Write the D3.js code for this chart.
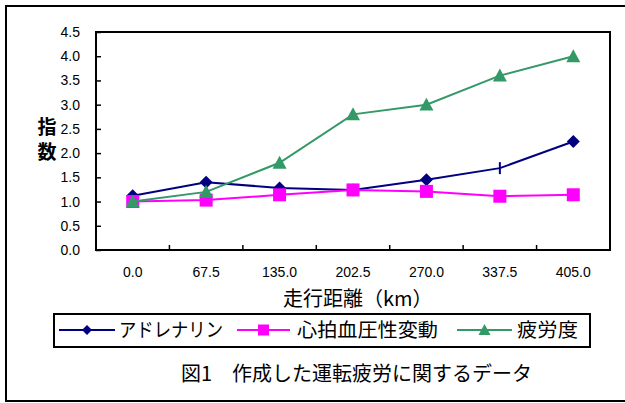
<!DOCTYPE html>
<html>
<head>
<meta charset="utf-8">
<script src="https://cdn.jsdelivr.net/npm/d3@7"></script>
<style>
  html, body { margin: 0; padding: 0; background: #fff; }
  svg { display: block; }
  text { font-family: "Liberation Sans", Arial, "Noto Sans CJK JP", sans-serif; fill: #000; }
  .jp { font-family: "Noto Sans CJK JP", "Liberation Sans", sans-serif; }
</style>
</head>
<body>
<svg id="chart" width="625" height="403"></svg>
<script>
// 走行距離 (km) categories
const distances = ["0.0", "67.5", "135.0", "202.5", "270.0", "337.5", "405.0"];
// index series
const adrenaline = [1.12, 1.40, 1.28, 1.24, 1.45, 1.69, 2.24];
const heartBP    = [1.00, 1.03, 1.14, 1.24, 1.21, 1.11, 1.14];
const fatigue    = [1.00, 1.20, 1.80, 2.80, 3.00, 3.60, 4.00];
// marker shape per point of the adrenaline series (one point drawn as a bar)
const adrenalineMarks = ["diamond", "diamond", "diamond", "diamond", "diamond", "bar", "diamond"];
const yTicks = [0, 0.5, 1, 1.5, 2, 2.5, 3, 3.5, 4, 4.5];

const seriesNames = ["アドレナリン", "心拍血圧性変動", "疲労度"];
const seriesColors = ["#000080", "#ff00ff", "#339966"];

const svg = d3.select("#chart");

// outer frame (open on the right)
svg.append("path")
  .attr("d", "M630,6 H6 V401 H630")
  .attr("fill", "none").attr("stroke", "#000").attr("stroke-width", 2);

const plot = { left: 96, top: 32, right: 610, bottom: 250 };

const x = d3.scaleBand().domain(distances).range([plot.left, plot.right]).padding(0);
const y = d3.scaleLinear().domain([0, 4.5]).range([plot.bottom, plot.top]);

// plot border
svg.append("rect")
  .attr("x", plot.left).attr("y", plot.top)
  .attr("width", plot.right - plot.left).attr("height", plot.bottom - plot.top)
  .attr("fill", "none").attr("stroke", "#000").attr("stroke-width", 2);

// y axis: ticks inside, labels left
const yAxis = d3.axisLeft(y).tickValues(yTicks).tickFormat(d3.format(".1f")).tickSizeInner(-5).tickSizeOuter(0).tickPadding(16);
const gy = svg.append("g").attr("transform", `translate(${plot.left},0)`).call(yAxis);
gy.select(".domain").remove();
gy.selectAll(".tick line").attr("stroke", "#000").attr("stroke-width", 1.5);
gy.selectAll(".tick text").attr("font-size", 14).attr("font-family", "Liberation Sans, Arial, sans-serif").attr("fill", "#000");

// x axis: ticks at category boundaries pointing up
const boundaries = distances.slice(1).map(d => x(d));
svg.append("g").selectAll("line").data(boundaries).join("line")
  .attr("x1", d => d).attr("x2", d => d)
  .attr("y1", plot.bottom).attr("y2", plot.bottom - 5)
  .attr("stroke", "#000").attr("stroke-width", 1.5);
svg.append("g").selectAll("text").data(distances).join("text")
  .attr("x", d => x(d) + x.bandwidth() / 2)
  .attr("y", 277)
  .attr("text-anchor", "middle")
  .attr("font-size", 14)
  .text(d => d);

// axis titles
svg.append("text").attr("class", "jp").attr("x", 283).attr("y", 306)
  .attr("font-size", 20).text("走行距離（km）");
svg.append("text").attr("class", "jp").attr("x", 47).attr("y", 134)
  .attr("font-size", 19).attr("font-weight", "bold").attr("text-anchor", "middle").text("指");
svg.append("text").attr("class", "jp").attr("x", 47).attr("y", 159)
  .attr("font-size", 19).attr("font-weight", "bold").attr("text-anchor", "middle").text("数");

// marker drawing helpers
function drawMarker(g, shape, cx, cy, s, color) {
  if (shape === "diamond") {
    g.append("path").attr("d", `M${cx},${cy - s} L${cx + s},${cy} L${cx},${cy + s} L${cx - s},${cy} Z`).attr("fill", color);
  } else if (shape === "square") {
    g.append("rect").attr("x", cx - s).attr("y", cy - s).attr("width", 2 * s).attr("height", 2 * s).attr("fill", color);
  } else if (shape === "triangle") {
    g.append("path").attr("d", `M${cx},${cy - s} L${cx + s},${cy + s * 0.85} L${cx - s},${cy + s * 0.85} Z`).attr("fill", color);
  } else if (shape === "bar") {
    g.append("line").attr("x1", cx).attr("x2", cx).attr("y1", cy - 6).attr("y2", cy + 6).attr("stroke", color).attr("stroke-width", 2);
  }
}

const cx = d => x(d) + x.bandwidth() / 2;
const line = d3.line().x((d, i) => cx(distances[i])).y(d => y(d));

const series = [
  { values: adrenaline, color: seriesColors[0], marks: adrenalineMarks, size: 6.5 },
  { values: heartBP, color: seriesColors[1], marks: distances.map(() => "square"), size: 6.5 },
  { values: fatigue, color: seriesColors[2], marks: distances.map(() => "triangle"), size: 7 }
];

series.forEach(s => {
  const g = svg.append("g");
  g.append("path").datum(s.values).attr("d", line)
    .attr("fill", "none").attr("stroke", s.color).attr("stroke-width", 2);
  s.values.forEach((v, i) => drawMarker(g, s.marks[i], cx(distances[i]), y(v), s.size, s.color));
});

// legend
const lg = svg.append("g");
lg.append("rect").attr("x", 54).attr("y", 314).attr("width", 536).attr("height", 33)
  .attr("fill", "#fff").attr("stroke", "#000").attr("stroke-width", 2);
const legendItems = [
  { x0: 59, x1: 115, tx: 119, tw: 104, shape: "diamond", s: 5 },
  { x0: 237, x1: 290, tx: 297, tw: 141, shape: "square", s: 5.5 },
  { x0: 457, x1: 512, tx: 517, tw: 61, shape: "triangle", s: 6 }
];
legendItems.forEach((it, i) => {
  const g = lg.append("g");
  g.append("line").attr("x1", it.x0).attr("x2", it.x1).attr("y1", 330).attr("y2", 330)
    .attr("stroke", seriesColors[i]).attr("stroke-width", 2);
  drawMarker(g, it.shape, (it.x0 + it.x1) / 2, 330, it.s, seriesColors[i]);
  g.append("text").attr("class", "jp").attr("x", it.tx).attr("y", 337)
    .attr("font-size", 19.5)
    .attr("textLength", it.tw).attr("lengthAdjust", "spacingAndGlyphs")
    .text(seriesNames[i]);
});

// caption
svg.append("text").attr("class", "jp").attr("x", 181).attr("y", 381)
  .attr("font-size", 20).text("図1　作成した運転疲労に関するデータ");
</script>
</body>
</html>
